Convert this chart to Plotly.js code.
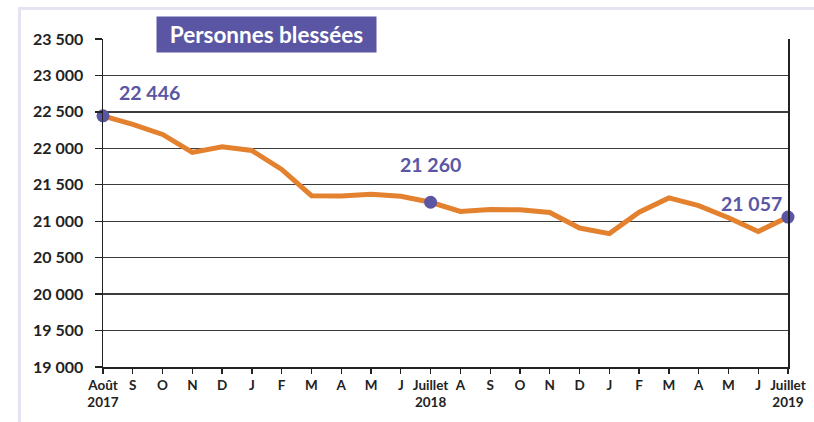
<!DOCTYPE html>
<html>
<head>
<meta charset="utf-8">
<script src="https://cdn.plot.ly/plotly-3.0.1.min.js"></script>
<style>
  html, body { margin: 0; padding: 0; background: #ffffff; }
  #wrap { position: relative; width: 814px; height: 422px; overflow: hidden; }
  #frame { position: absolute; left: 18px; top: 7px; width: 800px; height: 420px;
           border-left: 3px solid #e3e3f1; border-top: 3px solid #e3e3f1; pointer-events: none; }
  #chart { position: absolute; left: 0; top: 0; width: 814px; height: 422px; }
</style>
</head>
<body>
<div id="wrap">
  <div id="chart"></div>
  <div id="frame"></div>
</div>
<script>
const monthIndex = [0,1,2,3,4,5,6,7,8,9,10,11,12,13,14,15,16,17,18,19,20,21,22,23,24];
const tickLabels = ["Août<br>2017","S","O","N","D","J","F","M","A","M","J","Juillet<br>2018",
                    "A","S","O","N","D","J","F","M","A","M","J","Juillet<br>2019"];
const injured = [22446, 22330, 22190, 21945, 22020, 21970, 21710, 21350, 21347, 21370, 21343, 21260,
                 21135, 21162, 21157, 21120, 20907, 20830, 21124, 21320, 21214, 21047, 20860, 21057];
const highlightIdx = [0, 11, 23];
const highlightLabels = ["22 446", "21 260", "21 057"];
const labelShifts = [[46, 23], [0, 38], [-37, 14]];
const yTicks = [19000, 19500, 20000, 20500, 21000, 21500, 22000, 22500, 23000, 23500];
const chartTitle = "Personnes blessées";

const x = monthIndex.slice(0, injured.length);
const purple = "#5a56a3";
const orange = "#e3812f";

const traces = [
  { x: x, y: injured, type: "scatter", mode: "lines",
    line: { color: orange, width: 5 }, cliponaxis: false, hoverinfo: "skip" },
  { x: highlightIdx.map(i => x[i]), y: highlightIdx.map(i => injured[i]), type: "scatter", mode: "markers",
    marker: { color: purple, size: 13 }, cliponaxis: false, hoverinfo: "skip" }
];

const annotations = highlightIdx.map((i, k) => ({
  x: x[i], y: injured[i], xref: "x", yref: "y", text: "<b>" + highlightLabels[k] + "</b>", showarrow: false,
  xshift: labelShifts[k][0], yshift: labelShifts[k][1],
  font: { family: "Lato, 'Open Sans', sans-serif", size: 19.5, color: purple }
}));
annotations.push({
  xref: "paper", yref: "paper", x: 0.2387, y: 1.0137, xanchor: "center", yanchor: "middle",
  text: "<b>" + chartTitle + "</b>", showarrow: false, bgcolor: purple, width: 217, height: 33,
  font: { family: "Lato, 'Open Sans', sans-serif", size: 22.5, color: "#ffffff" }
});

const layout = {
  width: 814, height: 422,
  margin: { l: 103, r: 26, t: 39, b: 55, pad: 0 },
  paper_bgcolor: "rgba(0,0,0,0)", plot_bgcolor: "#ffffff",
  showlegend: false,
  separators: ", ",
  font: { family: "Lato, 'Open Sans', sans-serif", color: "#222222" },
  xaxis: {
    range: [0, 23], tickmode: "array", tickvals: x, ticktext: tickLabels,
    showgrid: false, zeroline: false, showline: true, linecolor: "#222222", linewidth: 1.5,
    ticks: "outside", ticklen: 5, tickwidth: 1.3, tickcolor: "#222222",
    tickfont: { size: 13.5, color: "#222222", weight: 700 }, fixedrange: true
  },
  yaxis: {
    range: [19000, 23500], tickmode: "array", tickvals: yTicks, tickformat: ",d",
    showgrid: true, gridcolor: "#3c3c3c", gridwidth: 1.4, zeroline: false,
    showline: true, mirror: true, linecolor: "#222222", linewidth: 1.5,
    ticks: "outside", ticklen: 7, tickwidth: 1.3, tickcolor: "#222222",
    ticklabelstandoff: 8,
    tickfont: { size: 16, color: "#222222", weight: 700 }, fixedrange: true
  },
  annotations: annotations
};

Plotly.newPlot("chart", traces, layout, { staticPlot: true, displayModeBar: false });
</script>
</body>
</html>
